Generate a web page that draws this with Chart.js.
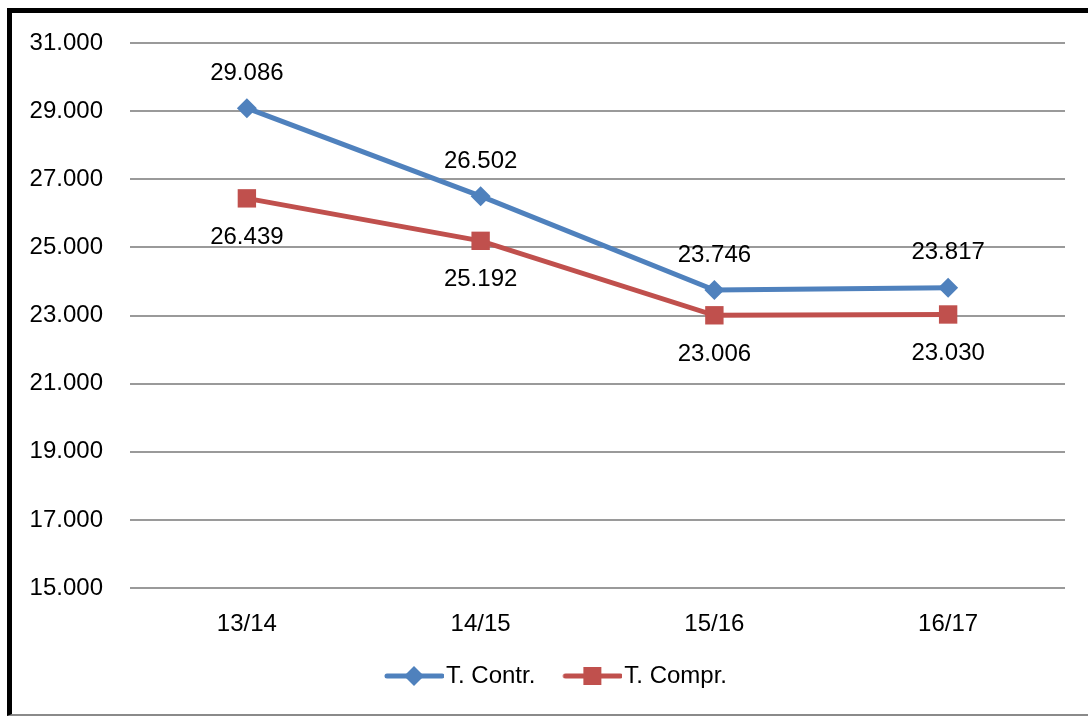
<!DOCTYPE html>
<html>
<head>
<meta charset="utf-8">
<script src="https://cdn.jsdelivr.net/npm/chart.js@4/dist/chart.umd.min.js"></script>
<style>
    html, body { margin: 0; padding: 0; background: #fff; }
    #frame {
        position: absolute; left: 7px; top: 8px; width: 1100px; height: 701px;
        border-left: 5px solid #000; border-top: 5px solid #000; border-bottom: 2px solid #8a8a8a;
    }
    #wrap { position: absolute; left: 0; top: 0; width: 1088px; height: 720px; }
</style>
</head>
<body>
<div id="frame"></div>
<div id="wrap"><canvas id="chart" width="1088" height="720"></canvas></div>
<script>
const seasons = ["13/14", "14/15", "15/16", "16/17"];
const contrValues = [29086, 26502, 23746, 23817];
const comprValues = [26439, 25192, 23006, 23030];
const yMin = 15000;
const yMax = 31000;
const yStep = 2000;

const BLUE = "#4F81BD";
const RED = "#C0504D";
const FONT = "'Liberation Sans', Arial, sans-serif";

function fmt(v) {
    return String(Math.round(v)).replace(/\B(?=(\d{3})+(?!\d))/g, ".");
}

// legend symbol: line with marker, shifted right a bit so text sits close
function legendIcon(color, shape) {
    const c = document.createElement("canvas");
    c.width = 78;
    c.height = 22;
    const g = c.getContext("2d");
    g.strokeStyle = color;
    g.lineWidth = 5;
    g.lineCap = "round";
    g.beginPath();
    g.moveTo(21, 11);
    g.lineTo(76, 11);
    g.stroke();
    g.fillStyle = color;
    g.beginPath();
    if (shape === "diamond") {
        g.moveTo(48, 1); g.lineTo(58, 11); g.lineTo(48, 21); g.lineTo(38, 11);
    } else {
        g.rect(39, 2, 18, 18);
    }
    g.closePath();
    g.fill();
    return c;
}

const valueLabels = {
    id: "valueLabels",
    afterDatasetsDraw(chart) {
        const ctx = chart.ctx;
        ctx.save();
        ctx.font = "24px " + FONT;
        ctx.fillStyle = "#000";
        ctx.textAlign = "center";
        ctx.textBaseline = "middle";
        chart.data.datasets.forEach((ds, i) => {
            const meta = chart.getDatasetMeta(i);
            meta.data.forEach((pt, j) => {
                const dy = i === 0 ? -35 : 39;
                ctx.fillText(fmt(ds.data[j]), pt.x, pt.y + dy);
            });
        });
        ctx.restore();
    }
};

// nudge the legend a little to the right, like the original
const legendShift = {
    id: "legendShift",
    afterLayout(chart) {
        if (chart.legend) {
            chart.legend.left += 13;
            chart.legend.right += 13;
        }
    }
};

new Chart(document.getElementById("chart"), {
    type: "line",
    data: {
        labels: seasons,
        datasets: [
            {
                label: "T. Contr.",
                data: contrValues,
                borderColor: BLUE,
                backgroundColor: BLUE,
                borderWidth: 5,
                pointStyle: "rectRot",
                pointRadius: 10,
                pointHoverRadius: 10,
                pointBorderWidth: 0,
                tension: 0
            },
            {
                label: "T. Compr.",
                data: comprValues,
                borderColor: RED,
                backgroundColor: RED,
                borderWidth: 5,
                pointStyle: "rect",
                pointRadius: 13,
                pointHoverRadius: 13,
                pointBorderWidth: 0,
                tension: 0
            }
        ]
    },
    options: {
        responsive: false,
        animation: false,
        layout: { padding: { left: 12, right: 23, top: 43, bottom: 22 } },
        scales: {
            x: {
                offset: true,
                grid: { display: false, drawTicks: false },
                border: { display: false },
                ticks: { color: "#000", font: { family: FONT, size: 24 }, padding: 22 },
                afterFit(scale) { scale.height = 57; }
            },
            y: {
                min: yMin,
                max: yMax,
                grid: { color: "#9a9a9a", lineWidth: 2, drawTicks: false },
                border: { display: false },
                ticks: {
                    stepSize: yStep,
                    color: "#000",
                    font: { family: FONT, size: 24 },
                    padding: 27,
                    callback: v => fmt(v)
                },
                afterFit(scale) { scale.width = 118; }
            }
        },
        plugins: {
            tooltip: { enabled: false },
            legend: {
                position: "bottom",
                labels: {
                    usePointStyle: true,
                    pointStyleWidth: 58,
                    padding: 19,
                    color: "#000",
                    font: { family: FONT, size: 24 },
                    generateLabels(chart) {
                        return chart.data.datasets.map((ds, i) => ({
                            text: ds.label,
                            pointStyle: legendIcon(ds.borderColor, i === 0 ? "diamond" : "square"),
                            fillStyle: ds.borderColor,
                            strokeStyle: ds.borderColor,
                            lineWidth: 0,
                            fontColor: "#000",
                            datasetIndex: i
                        }));
                    }
                }
            }
        }
    },
    plugins: [valueLabels, legendShift]
});
</script>
</body>
</html>
